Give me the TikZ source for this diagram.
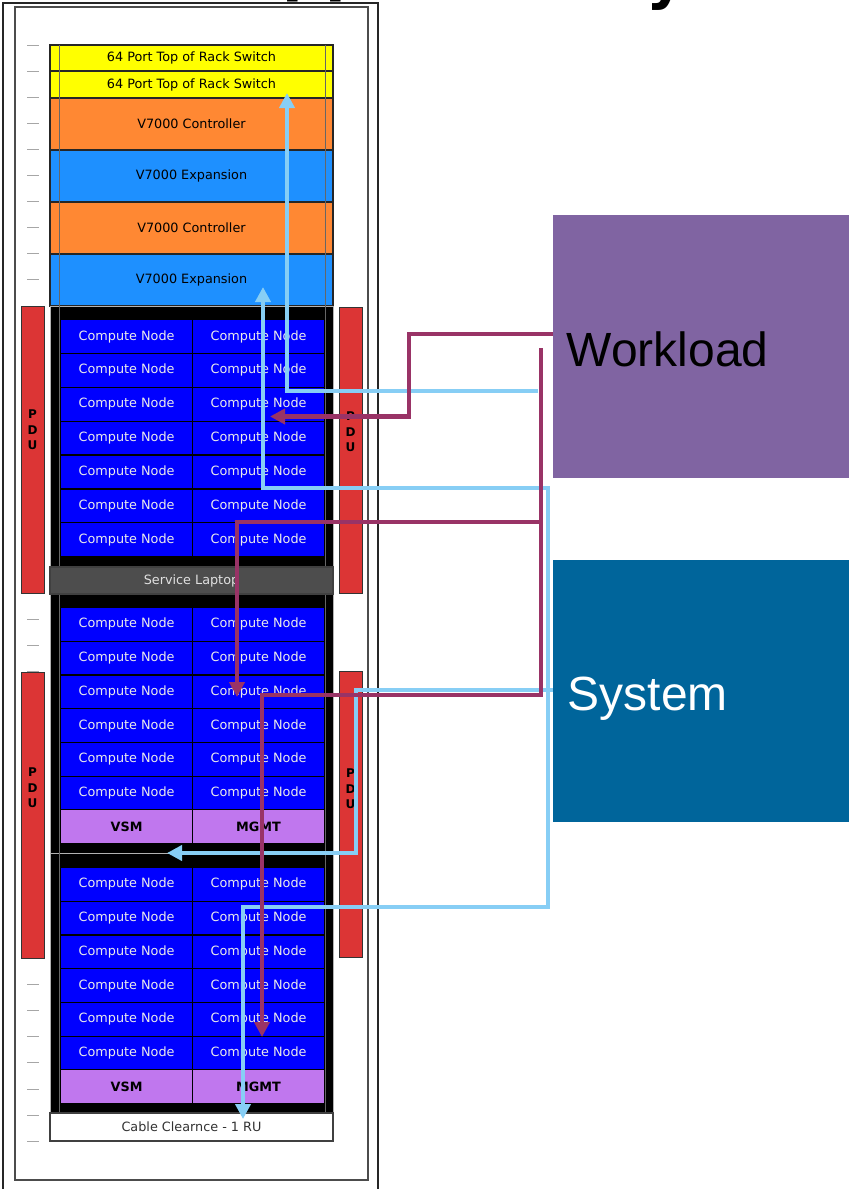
\documentclass[tikz,border=0pt]{standalone}
\usepackage{fontspec}
\setmainfont{DejaVu Sans}
\newfontfamily\arialf{Liberation Sans}
\usetikzlibrary{arrows.meta}
\definecolor{swy}{HTML}{FFFF00}
\definecolor{ctlor}{HTML}{FF8833}
\definecolor{expbl}{HTML}{1E90FF}
\definecolor{cnbl}{HTML}{0000FF}
\definecolor{vsmc}{HTML}{C077EE}
\definecolor{lapc}{HTML}{4D4D4D}
\definecolor{pduc}{HTML}{DC3535}
\definecolor{wlc}{HTML}{8064A2}
\definecolor{sysc}{HTML}{00659B}
\definecolor{cyc}{HTML}{87CEF5}
\definecolor{mgc}{HTML}{993366}
\begin{document}
\begin{tikzpicture}[x=1pt,y=-1pt,
  lbl/.style={font=\fontsize{12.8}{14}\selectfont},
  rk/.style={draw=black!85, line width=1.2pt, inner sep=0pt, outer sep=0pt,
    anchor=north west, minimum width=283pt, lbl},
  chs/.style={draw=black!30, fill=black, line width=1pt, inner sep=0pt,
    anchor=north west, minimum width=283pt},
  cn/.style={draw=black, line width=1.2pt, fill=cnbl, text=white!92!black,
    inner sep=0pt, anchor=north west, minimum width=132pt, lbl},
  vsm/.style={cn, fill=vsmc, text=black, font=\bfseries\fontsize{12.8}{14}\selectfont},
  pdu/.style={draw=black!80, line width=1.2pt, fill=pduc, inner sep=0pt,
    anchor=north west, minimum width=23pt},
  pdut/.style={align=center, inner sep=0pt, font=\bfseries\fontsize{12}{15.5}\selectfont},
  tick/.style={draw=black!35, line width=1pt},
  rail/.style={draw=black!60, line width=0.8pt},
  cy/.style={draw=cyc, line width=4.5pt},
  mg/.style={draw=mgc, line width=4.5pt},
  tip/.style={-{Triangle[length=15pt,width=15pt]}},
  big/.style={inner sep=0pt, anchor=base west, font=\arialf\fontsize{48}{56}\selectfont},
  ttl/.style={inner sep=0pt, anchor=base west, font=\bfseries\fontsize{60}{70}\selectfont}
]
\useasboundingbox (0,0) rectangle (849,1189);
\fill[white] (0,0) rectangle (849,1189);

% title fragments (cut off at the top)
\node[ttl] (ttla) at (282.4,-10.5) {pp};
\node[ttl] (ttlb) at (646,-2.5) {y};

% rack frames
\draw[draw=black!85, line width=2pt] (3,3) rectangle (378,1210);
\draw[draw=black!70, line width=1.5pt] (15,7) rectangle (368,1180);

% unit ticks
\foreach \k in {0,...,42} { \draw[tick] (27,{45+\k*26.1}) -- (39,{45+\k*26.1}); }

% PDUs
\node[pdu, minimum height=287pt] (pdu1) at (21,306) {};
\node[pdu, minimum height=286pt] (pdu2) at (339,307) {};
\node[pdu, minimum height=286pt] (pdu3) at (21,672) {};
\node[pdu, minimum height=286pt] (pdu4) at (339,671) {};
\node[pdut] (pdu1t) at (32.5,430) {P\\D\\U};
\node[pdut] (pdu2t) at (350.5,432) {P\\D\\U};
\node[pdut] (pdu3t) at (32.5,788) {P\\D\\U};
\node[pdut] (pdu4t) at (350.5,789) {P\\D\\U};

% top equipment
\node[rk, fill=swy, minimum height=26pt] (sw1) at (50,45) {64 Port Top of Rack Switch};
\node[rk, fill=swy, minimum height=27pt] (sw2) at (50,71) {64 Port Top of Rack Switch};
\node[rk, fill=ctlor, minimum height=52pt] (ctl1) at (50,98) {V7000 Controller};
\node[rk, fill=expbl, minimum height=52pt] (exp1) at (50,150) {V7000 Expansion};
\node[rk, fill=ctlor, minimum height=52pt] (ctl2) at (50,202) {V7000 Controller};
\node[rk, fill=expbl, minimum height=52pt] (exp2) at (50,254) {V7000 Expansion};

% chassis
\node[chs, minimum height=261pt] (ch1) at (50,306) {};
\node[chs, minimum height=259pt] (ch2) at (50,594) {};
\node[chs, minimum height=260pt] (ch3) at (50,853) {};

% rails
\draw[rail] (59,45) -- (59,567);
\draw[rail] (325,45) -- (325,567);
\draw[rail] (59,594) -- (59,1113);
\draw[rail] (325,594) -- (325,1113);

% compute nodes
\foreach \r in {0,...,6} {
  \node[cn, minimum height=33.86pt] (a-\r-l) at (60,{319+\r*33.86}) {Compute Node};
  \node[cn, minimum height=33.86pt] (a-\r-r) at (192,{319+\r*33.86}) {Compute Node};
}
\foreach \r in {0,...,5} {
  \node[cn, minimum height=33.7pt] (b-\r-l) at (60,{607+\r*33.7}) {Compute Node};
  \node[cn, minimum height=33.7pt] (b-\r-r) at (192,{607+\r*33.7}) {Compute Node};
  \node[cn, minimum height=33.7pt] (c-\r-l) at (60,{867+\r*33.7}) {Compute Node};
  \node[cn, minimum height=33.7pt] (c-\r-r) at (192,{867+\r*33.7}) {Compute Node};
}
\node[vsm, minimum height=33.7pt] (vsm1) at (60,809.2) {VSM};
\node[vsm, minimum height=33.7pt] (mgmt1) at (192,809.2) {MGMT};
\node[vsm, minimum height=33.7pt] (vsm2) at (60,1069.2) {VSM};
\node[vsm, minimum height=33.7pt] (mgmt2) at (192,1069.2) {MGMT};

% service laptop and cable clearance
\node[rk, fill=lapc, draw=black!75, text=white!88!black, minimum height=27pt] (lap) at (50,567) {Service Laptop};
\node[rk, fill=white, draw=black!75, text=black!80, minimum height=28pt] (cab) at (50,1113) {Cable Clearnce - 1 RU};

% right-hand boxes
\fill[wlc] (553,215) rectangle (849,478);
\node[inner sep=0pt, anchor=north west, minimum width=296pt, minimum height=263pt] (wl) at (553,215) {};
\node[big, text=black] (wlt) at (566.5,366) {Workload};
\fill[sysc] (553,560) rectangle (849,822);
\node[inner sep=0pt, anchor=north west, minimum width=296pt, minimum height=262pt] (sys) at (553,560) {};
\node[big, text=white] (syst) at (567.5,710) {System};

% connector end points
\coordinate (c1s) at (538,391);
\coordinate (c1t) at (287,93);
\coordinate (c2t) at (263,287);
\coordinate (c2a) at (548,488);
\coordinate (c2b) at (548,907);
\coordinate (c3t) at (243,1119);
\coordinate (csA) at (sys.west |- 0,690);
\coordinate (cAt) at (167,853);
\coordinate (m1s) at (wl.west |- 0,334);
\coordinate (m1t) at (270,416.5);
\coordinate (m2s) at (541,348);
\coordinate (m2t) at (262,1037);
\coordinate (m3s) at (541,522);
\coordinate (m3t) at (237,697);

% cyan connectors
\draw[cy, tip] (c1s) -| (c1t);
\draw[cy, {Triangle[length=15pt,width=15pt]}-{Triangle[length=15pt,width=15pt]}]
  (c2t) |- (c2a) -- (c2b) -| (c3t);
\draw[cy, tip] (csA) -- (356,690) |- (cAt);

% magenta connectors
\draw[mg, tip] (m1s) -- (409,334) |- (m1t);
\draw[mg, tip] (m2s) |- (262,695) -- (m2t);
\draw[mg, tip] (m3s) -| (m3t);
\end{tikzpicture}
\end{document}
